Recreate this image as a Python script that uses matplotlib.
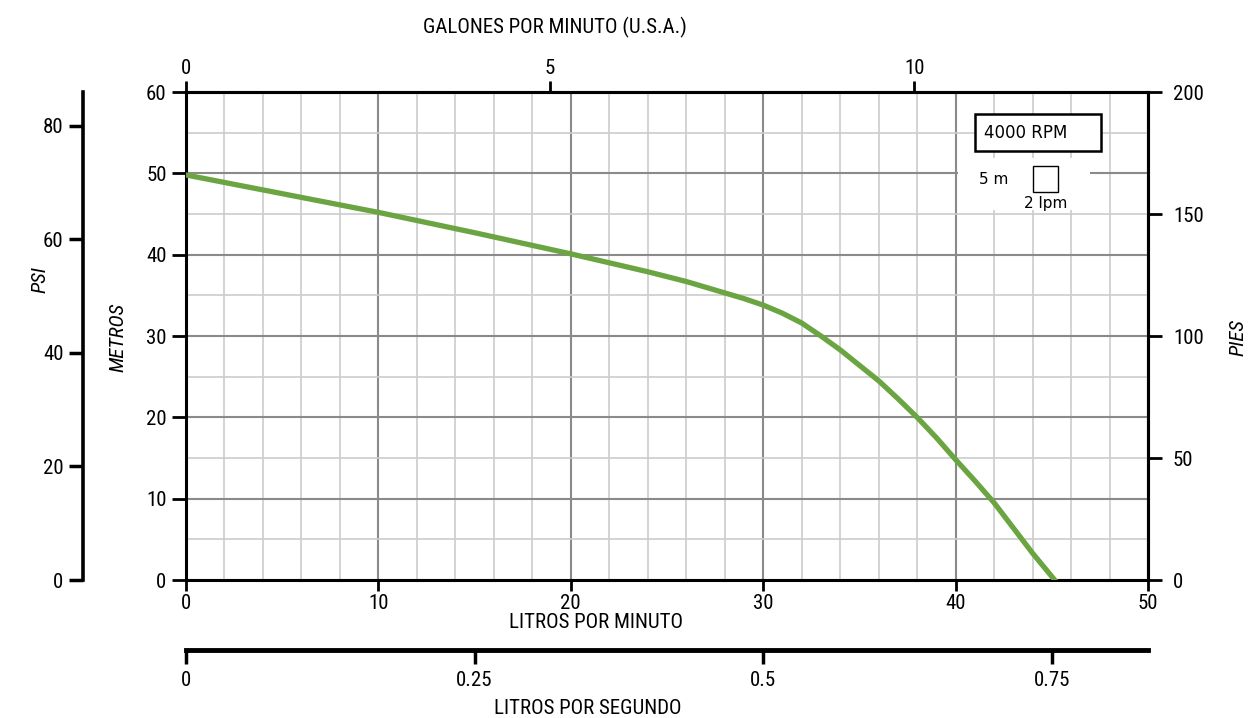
import matplotlib
matplotlib.use("Agg")
import matplotlib.pyplot as plt
from matplotlib import font_manager
from matplotlib.patches import Rectangle

# pump curve (flow in L/min, head in m)
lpm = [0, 5, 10, 15, 20, 22, 24, 26, 28, 29, 30, 31, 32, 33, 34, 35, 36, 37,
       38, 39, 40, 41, 42, 43, 44, 45.15]
metros = [49.8, 47.5, 45.2, 42.7, 40.1, 39.0, 37.9, 36.7, 35.3, 34.6, 33.8,
          32.8, 31.6, 30.0, 28.3, 26.4, 24.5, 22.3, 20.0, 17.5, 14.8, 12.2,
          9.5, 6.4, 3.3, 0]

lpm_ticks = [0, 10, 20, 30, 40, 50]
m_ticks = [0, 10, 20, 30, 40, 50, 60]
gpm_ticks = [0, 5, 10]
lps_ticks = [0, 0.25, 0.5, 0.75]
lps_labels = ["0", "0.25", "0.5", "0.75"]
psi_ticks = [0, 20, 40, 60, 80]
pies_ticks = [0, 50, 100, 150, 200]

PSI_PER_M = 1.433
FT_PER_M = 10 / 3
L_PER_GAL = 3.785

# the chart uses a condensed face; take one if the machine has it
names = {f.name for f in font_manager.fontManager.ttflist}
cond = "DejaVu Sans"
for cand in ["Roboto Condensed", "Open Sans Condensed", "Liberation Sans Narrow",
             "Noto Sans Condensed", "DejaVu Sans Condensed"]:
    if cand in names:
        cond = cand
        break
plt.rcParams["font.family"] = [cond, "DejaVu Sans"]
plt.rcParams["font.stretch"] = "condensed"
plt.rcParams["font.size"] = 15

W, H = 1255, 718
fig = plt.figure(figsize=(W / 100, H / 100), dpi=100)
ax = fig.add_axes([186 / W, 1 - 580 / H, (1148 - 186) / W, (580 - 92) / H])

ax.set_xlim(0, 50)
ax.set_ylim(0, 60)
ax.set_xticks(lpm_ticks)
ax.set_xticks(range(0, 51, 2), minor=True)
ax.set_yticks(m_ticks)
ax.set_yticks(range(0, 61, 5), minor=True)
ax.grid(which="minor", color="#cccccc", lw=1.2, zorder=0)
ax.grid(which="major", color="#8a8a8a", lw=1.5, zorder=0)
ax.set_axisbelow(True)
ax.tick_params(which="minor", length=0)
ax.tick_params(axis="x", which="major", direction="out", length=8, width=2,
               pad=2)
ax.tick_params(axis="y", which="major", direction="out", length=10, width=2,
               pad=4)
for s in ax.spines.values():
    s.set_color("black")
    s.set_linewidth(2.2)

ax.plot(lpm, metros, color="#6aa541", lw=3.8, zorder=4,
        solid_joinstyle="round")

# legend area in the top right corner
legend_font = dict(family="DejaVu Sans", fontstretch="normal", zorder=5)
ax.add_patch(Rectangle((40.1, 45.5), 6.9, 6.4, facecolor="white",
                       edgecolor="none", zorder=2))
ax.add_patch(Rectangle((41.0, 52.75), 6.55, 4.55, facecolor="white",
                       edgecolor="black", lw=1.8, zorder=3))
ax.text(41.5, 54.95, "4000 RPM", fontsize=12, va="center", ha="left",
        **legend_font)
ax.add_patch(Rectangle((44.0, 47.7), 1.3, 3.2, facecolor="white",
                       edgecolor="black", lw=1.0, zorder=3))
ax.text(42.0, 49.3, "5 m", fontsize=11, va="center", ha="center",
        **legend_font)
ax.text(44.7, 46.3, "2 lpm", fontsize=11, va="center", ha="center",
        **legend_font)

# gallons per minute on top
top = ax.secondary_xaxis("top", functions=(lambda l: l / L_PER_GAL,
                                           lambda g: g * L_PER_GAL))
top.set_xticks(gpm_ticks)
top.tick_params(direction="out", length=8, width=2, pad=2)
top.spines["top"].set_linewidth(2.2)

# litres per second below
lps = ax.secondary_xaxis(-0.143, functions=(lambda l: l / 60,
                                            lambda s: s * 60))
lps.set_xticks(lps_ticks)
lps.set_xticklabels(lps_labels)
lps.tick_params(direction="out", length=10, width=2.5, pad=5)
lps.spines["bottom"].set_linewidth(3.5)

# psi on the far left
psi = ax.secondary_yaxis(-0.107, functions=(lambda m: m * PSI_PER_M,
                                            lambda p: p / PSI_PER_M))
psi.set_yticks(psi_ticks)
psi.tick_params(direction="out", length=10, width=2.5, pad=4)
psi.spines["left"].set_linewidth(2.6)

# feet on the right
pies = ax.secondary_yaxis("right", functions=(lambda m: m * FT_PER_M,
                                              lambda f: f / FT_PER_M))
pies.set_yticks(pies_ticks)
pies.tick_params(direction="out", length=10, width=2, pad=8)
pies.spines["right"].set_linewidth(2.2)

fig.text(555 / W, 1 - 27 / H, "GALONES POR MINUTO (U.S.A.)", ha="center",
         va="center")
fig.text(596 / W, 1 - 622 / H, "LITROS POR MINUTO", ha="center",
         va="center")
fig.text(588 / W, 1 - 708 / H, "LITROS POR SEGUNDO", ha="center",
         va="center")
fig.text(40 / W, 1 - 280 / H, "PSI", rotation=90, style="italic",
         ha="center", va="center")
fig.text(118 / W, 1 - 337 / H, "METROS", rotation=90, style="italic",
         ha="center", va="center")
fig.text(1238 / W, 1 - 338 / H, "PIES", rotation=90, style="italic",
         ha="center", va="center")

fig.savefig("out.png", dpi=100, facecolor="white")
